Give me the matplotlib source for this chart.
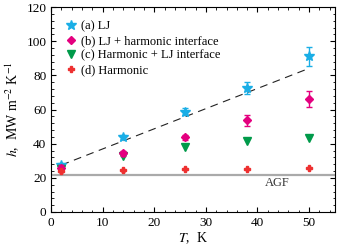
import matplotlib
matplotlib.use('Agg')
import matplotlib.pyplot as plt
from matplotlib.ticker import MultipleLocator

plt.rcParams['font.family'] = ['Liberation Serif', 'DejaVu Serif']
plt.rcParams['mathtext.fontset'] = 'stix'

# ---- data ----
T = [2, 14, 26, 38, 50]
h_lj = [27.5, 44.0, 58.8, 72.5, 91.2]
err_lj = [1.0, 1.0, 2.3, 3.4, 5.6]
h_lj_harm = [26.0, 34.5, 43.8, 53.6, 66.3]
err_lj_harm = [1.5, 1.5, 1.5, 3.0, 4.7]
h_harm_lj = [25.0, 33.0, 38.3, 41.3, 43.2]
h_harm = [23.8, 24.3, 25.2, 25.3, 25.5]
err_harm = [1.0, 0.8, 0.6, 0.6, 0.6]
agf = 21.7
fit_T = [2, 49.5]
fit_h = [27.5, 83.5]

labels = ['(a) LJ', '(b) LJ + harmonic interface',
          '(c) Harmonic + LJ interface', '(d) Harmonic']

fig = plt.figure(figsize=(3.41, 2.5), dpi=100)
ax = fig.add_axes([0.15, 0.152, 0.832, 0.82])

ax.axhline(agf, color='#aaaaaa', lw=1.6, zorder=1)
ax.plot(fit_T, fit_h, color='#222222', lw=0.8, dashes=(7, 5), zorder=2)

ax.errorbar(T, h_lj, yerr=err_lj, fmt='none', ecolor='#1aaee6',
            capsize=2.5, elinewidth=1, capthick=1, zorder=3)
a, = ax.plot(T, h_lj, '*', color='#1aaee6', ms=7, zorder=3)
ax.errorbar(T, h_lj_harm, yerr=err_lj_harm, fmt='none', ecolor='#e4007f',
            capsize=2.5, elinewidth=1, capthick=1, zorder=4)
b, = ax.plot(T, h_lj_harm, 'D', color='#e4007f', ms=4.5, zorder=4)
c, = ax.plot(T, h_harm_lj, 'v', color='#009a4a', ms=6, zorder=3)
ax.errorbar(T, h_harm, yerr=err_harm, fmt='none', ecolor='#ee3030',
            capsize=1.5, elinewidth=1, zorder=4)
d, = ax.plot(T, h_harm, 'P', color='#ee3030', ms=4.5, zorder=4)

ax.text(43.8, 17, 'AGF', fontsize=9, color='#333333', ha='center', va='center')

ax.set_xlim(0, 55)
ax.set_ylim(0, 120)
ax.xaxis.set_major_locator(MultipleLocator(10))
ax.xaxis.set_minor_locator(MultipleLocator(2))
ax.yaxis.set_major_locator(MultipleLocator(20))
ax.yaxis.set_minor_locator(MultipleLocator(4))
ax.tick_params(which='both', direction='in', top=True, right=True, labelsize=9.5)
ax.tick_params(which='major', length=3.5, width=0.8)
ax.tick_params(which='minor', length=1.8, width=0.6)

ax.set_xlabel(r'$T$,  K', fontsize=10, labelpad=1)
ax.set_ylabel(r'$h$,  MW m$^{-2}$ K$^{-1}$', fontsize=10, labelpad=3)

ax.legend([a, b, c, d], labels, loc='upper left', frameon=False, fontsize=9,
          handletextpad=0.3, handlelength=1.0, labelspacing=0.2,
          borderaxespad=0.7)

fig.savefig('out.png', dpi=100)
